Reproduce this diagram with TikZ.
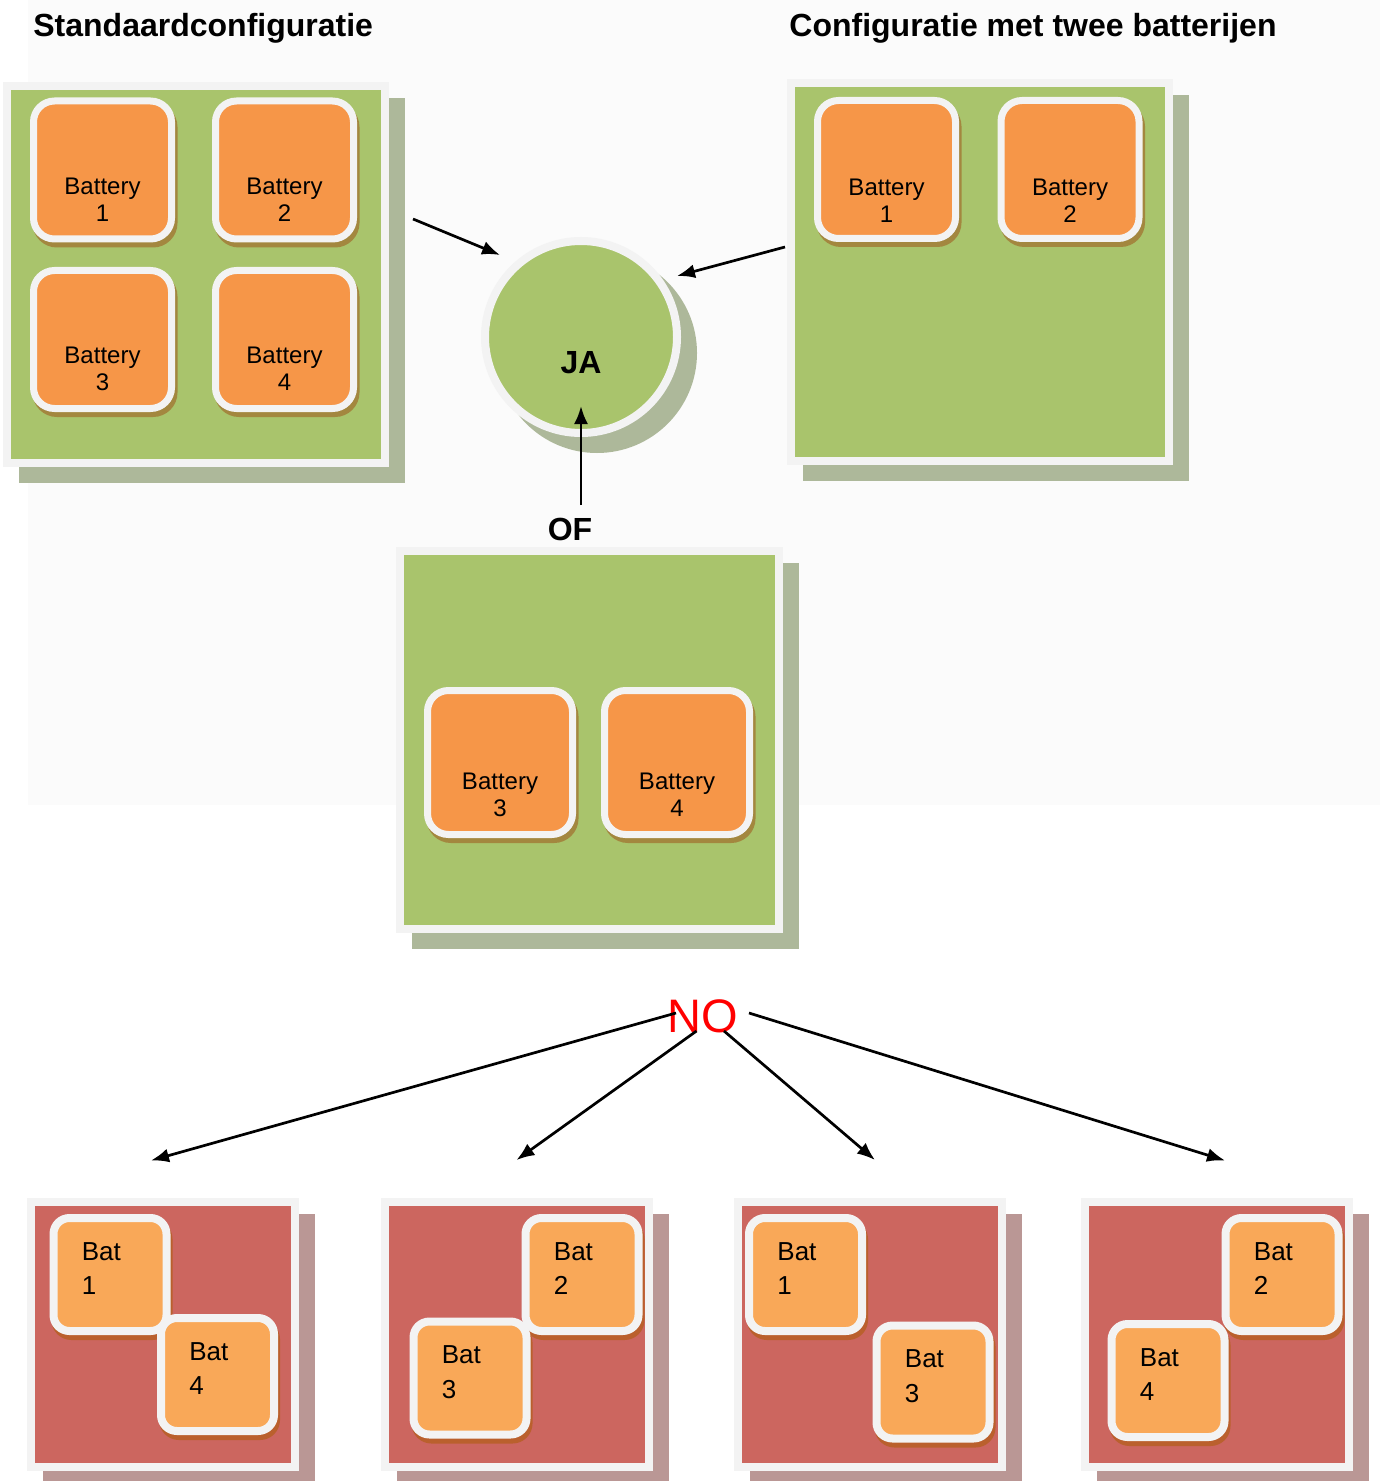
\documentclass[tikz,border=0pt]{standalone}
\usepackage{fontspec}
\setmainfont{Liberation Sans}
\usetikzlibrary{shadows,arrows.meta}
\definecolor{bgfaint}{HTML}{FBFBFB}
\definecolor{frame}{HTML}{F3F3F3}
\definecolor{pgreen}{HTML}{A9C46C}
\definecolor{gshadow}{HTML}{ADB89A}
\definecolor{orangeA}{HTML}{F69648}
\definecolor{gbshadow}{HTML}{A3873F}
\definecolor{pred}{HTML}{CC665F}
\definecolor{rshadow}{HTML}{BA9795}
\definecolor{orangeB}{HTML}{F9A858}
\definecolor{rbshadow}{HTML}{BA602D}
\definecolor{noRed}{HTML}{FF0000}
\newcommand{\gbattery}[6]{%
  \node[gbat,#5] (#1) at (#2,#3) {};
  \node[gbtext] (#1t) at ([yshift=#6]#1.center) {Battery\\#4};}
\newcommand{\rbattery}[4]{%
  \node[rbat] (#1) at (#2,#3) {};
  \node[rbtext] (#1t) at ([xshift=-14.25pt,yshift=2.9pt]#1.center) {Bat\\#4};}
\begin{document}
\begin{tikzpicture}[x=0.5pt,y=-0.5pt,
  title/.style={font=\fontsize{16}{19}\selectfont\bfseries, anchor=base west, inner sep=0pt},
  gpanel/.style={fill=pgreen, draw=frame, line width=4pt, inner sep=0pt,
    minimum width=189pt, minimum height=189pt,
    general shadow={fill=gshadow, draw=gshadow, line width=4pt, shadow xshift=8pt, shadow yshift=-8pt}},
  gbat/.style={fill=orangeA, draw=frame, line width=3.5pt, rounded corners=10.5pt, inner sep=0pt,
    minimum width=69pt, minimum height=69pt,
    general shadow={fill=gbshadow, draw=gbshadow, line width=3.5pt, shadow xshift=1.25pt, shadow yshift=-2.5pt}},
  gbtext/.style={font=\fontsize{12}{13.5}\selectfont, align=center, inner sep=0pt},
  rpanel/.style={fill=pred, draw=frame, line width=4pt, inner sep=0pt,
    minimum width=132pt, minimum height=132.5pt,
    general shadow={fill=rshadow, draw=rshadow, line width=4pt, shadow xshift=8pt, shadow yshift=-8pt}},
  rbat/.style={fill=orangeB, draw=frame, line width=4pt, rounded corners=8pt, inner sep=0pt,
    minimum width=56.5pt, minimum height=56.5pt,
    general shadow={fill=rbshadow, draw=rbshadow, line width=4pt, shadow xshift=1pt, shadow yshift=-2.5pt}},
  rbtext/.style={font=\fontsize{13}{17.25}\selectfont, align=left, anchor=west, inner sep=0pt},
  jacircle/.style={circle, fill=pgreen, draw=frame, line width=4pt, inner sep=0pt, minimum size=96pt,
    general shadow={fill=gshadow, draw=gshadow, line width=4pt, shadow xshift=8pt, shadow yshift=-8pt}},
  bigbold/.style={font=\fontsize{16}{19}\selectfont\bfseries, anchor=base, inner sep=0pt},
  arr/.style={-{Latex[length=9pt,width=7pt]}, line width=1.35pt}]
\useasboundingbox (0,0) rectangle (1380,1481);
\fill[bgfaint] (28,0) rectangle (1380,805);

% titles
\node[title] (t1) at (33,37) {Standaardconfiguratie};
\node[title] (t2) at (789,37) {Configuratie met twee batterijen};

% panel 1: standard configuration
\node[gpanel, minimum height=188.5pt] (p1) at (196,274.5) {};
\gbattery{p1b1}{102.5}{170}{1}{}{-14.75pt}
\gbattery{p1b2}{284.5}{170}{2}{}{-14.75pt}
\gbattery{p1b3}{102.5}{339.5}{3}{}{-14.75pt}
\gbattery{p1b4}{284.5}{339.5}{4}{}{-14.75pt}

% panel 2: two batteries (top)
\node[gpanel] (p2) at (980,272) {};
\gbattery{p2b1}{886.5}{169.5}{1}{}{-15.75pt}
\gbattery{p2b2}{1070}{169.5}{2}{}{-15.75pt}

% panel 3: two batteries (bottom)
\node[gpanel, minimum width=189.5pt] (p3) at (589.5,740) {};
\gbattery{p3b3}{500}{762.5}{3}{minimum width=72.5pt, minimum height=72pt}{-16pt}
\gbattery{p3b4}{677}{762.5}{4}{minimum width=72.5pt, minimum height=72pt}{-16pt}

% JA circle
\node[jacircle] (ja) at (581,337) {};
\node[bigbold] (jat) at ([yshift=-18.25pt]ja.center) {JA};
\node[bigbold] (of) at (570,540) {OF};

% arrows to JA
\coordinate (a1s) at (413,219);
\coordinate (a1e) at (500,255);
\coordinate (a2s) at (785,247);
\coordinate (a2e) at (677,276);
\coordinate (a3s) at (581,505);
\coordinate (a3e) at (581,406);
\draw[arr] (a1s) -- (a1e);
\draw[arr] (a2s) -- (a2e);
\draw[arr] (a3s) -- (a3e);

% NO
\node[font=\fontsize{23.5}{28}\selectfont, text=noRed, anchor=base, inner sep=0pt] (no) at (702.5,1032) {NO};
\coordinate (n1s) at (676,1013);
\coordinate (n1e) at (151,1160.5);
\coordinate (n2s) at (696.5,1031);
\coordinate (n2e) at (516.5,1160);
\coordinate (n3s) at (724,1031);
\coordinate (n3e) at (875,1160);
\coordinate (n4s) at (749,1013);
\coordinate (n4e) at (1225,1160.5);
\draw[arr] (n1s) -- (n1e);
\draw[arr] (n2s) -- (n2e);
\draw[arr] (n3s) -- (n3e);
\draw[arr] (n4s) -- (n4e);

% bottom red panels
\node[rpanel] (qa) at (163,1334.5) {};
\rbattery{qa1}{110}{1274.5}{1}
\rbattery{qa4}{217.5}{1374.5}{4}

\node[rpanel] (qb) at (517,1334.5) {};
\rbattery{qb2}{582}{1274.5}{2}
\rbattery{qb3}{470}{1378}{3}

\node[rpanel] (qc) at (870,1334.5) {};
\rbattery{qc1}{805.5}{1274.5}{1}
\rbattery{qc3}{933}{1382}{3}

\node[rpanel] (qd) at (1217,1334.5) {};
\rbattery{qd2}{1282}{1274.5}{2}
\rbattery{qd4}{1168}{1380.5}{4}
\end{tikzpicture}
\end{document}
